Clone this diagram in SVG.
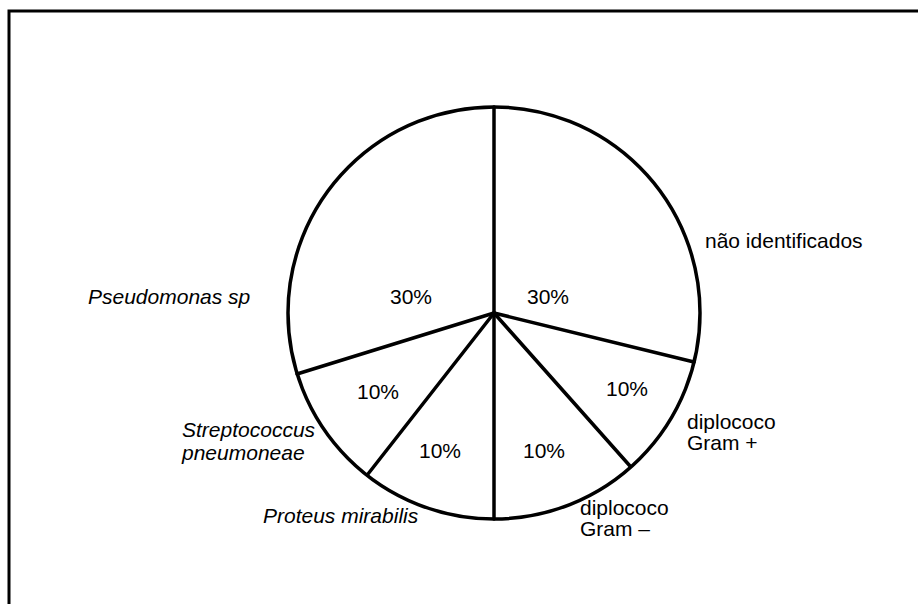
<svg xmlns="http://www.w3.org/2000/svg" width="918" height="604" viewBox="0 0 918 604">
<style>
.ln{fill:none;stroke:#000;stroke-width:3.5;stroke-linecap:round}
.t{font-family:"Liberation Sans",Arial,sans-serif;font-size:21px;fill:#000}
.i{font-style:italic}
.p{font-size:21px;text-anchor:middle}
</style>
<rect width="918" height="604" fill="#fff"/>
<path d="M9 604 V11 H918" fill="none" stroke="#000" stroke-width="3"/>
<g id="pie">
<ellipse class="ln" cx="494" cy="313" rx="206" ry="206"/>
</g>
<g id="connectors">
<line class="ln" x1="494" y1="313" x2="494" y2="107"/>
<line class="ln" x1="494" y1="313" x2="494" y2="519"/>
<line class="ln" x1="494" y1="313" x2="694" y2="362"/>
<line class="ln" x1="494" y1="313" x2="297" y2="374"/>
<line class="ln" x1="494" y1="313" x2="368" y2="474"/>
<line class="ln" x1="494" y1="313" x2="630" y2="466"/>
</g>
<g id="pseudomonas">
<text class="t p" x="411" y="304">30%</text>
<text class="t i" x="88" y="304">Pseudomonas sp</text>
</g>
<g id="nao-identificados">
<text class="t p" x="548" y="304">30%</text>
<text class="t" x="705" y="248">não identificados</text>
</g>
<g id="streptococcus">
<text class="t p" x="378" y="399">10%</text>
<text class="t i" x="182" y="437">Streptococcus</text>
<text class="t i" x="182" y="460">pneumoneae</text>
</g>
<g id="proteus">
<text class="t p" x="440" y="458">10%</text>
<text class="t i" x="263" y="523">Proteus mirabilis</text>
</g>
<g id="gram-neg">
<text class="t p" x="544" y="458">10%</text>
<text class="t" x="580" y="515">diplococo</text>
<text class="t" x="580" y="536">Gram –</text>
</g>
<g id="gram-pos">
<text class="t p" x="627" y="396">10%</text>
<text class="t" x="687" y="429">diplococo</text>
<text class="t" x="687" y="450">Gram +</text>
</g>
</svg>
